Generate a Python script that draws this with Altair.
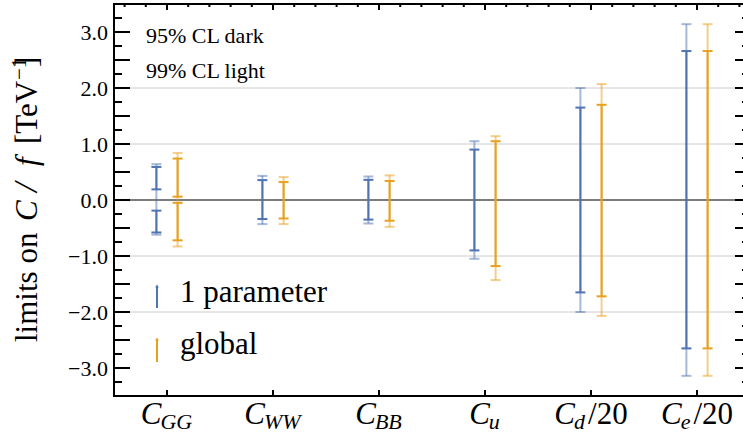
import altair as alt
import pandas as pd
import numpy as np

# ---------------- data ----------------
categories = ["C_GG", "C_WW", "C_BB", "C_u", "C_d/20", "C_e/20"]
label_main = ["C", "C", "C", "C", "C", "C"]
label_sub = ["GG", "WW", "BB", "u", "d", "e"]
label_suffix = ["", "", "", "", "/20", "/20"]
series_names = ["1 parameter", "global"]
level_notes = ["95% CL dark", "99% CL light"]

# 1-parameter fit
one_99_lo = [-0.62, -0.43, -0.42, -1.05, -2.00, -3.14]
one_99_hi = [0.64, 0.43, 0.42, 1.05, 2.00, 3.14]
one_95_lo = [-0.58, -0.34, -0.35, -0.90, -1.65, -2.65]
one_95_hi = [0.59, 0.355, 0.36, 0.90, 1.65, 2.66]
one_95_gap_lo = [-0.19, None, None, None, None, None]
one_95_gap_hi = [0.19, None, None, None, None, None]

# global fit
glob_99_lo = [-0.83, -0.43, -0.48, -1.43, -2.07, -3.14]
glob_99_hi = [0.84, 0.41, 0.44, 1.14, 2.07, 3.14]
glob_95_lo = [-0.72, -0.33, -0.37, -1.18, -1.72, -2.65]
glob_95_hi = [0.74, 0.32, 0.34, 1.05, 1.70, 2.66]
glob_95_gap_lo = [-0.05, None, None, None, None, None]
glob_95_gap_hi = [0.06, None, None, None, None, None]

y_label_values = [-3, -2, -1, 0, 1, 2, 3]
grid_values = [-2, -1, 1, 2]

# ---------------- layout ----------------
FONT = "Liberation Serif, Times New Roman, DejaVu Serif, serif"
BLUE = "#5074B2"
ORANGE = "#E8A020"
W, H = 629, 392
PPU = 106.0                      # pixels per category unit
XMAX = 0.5 + W / PPU
series_offset = {"1 parameter": -0.1, "global": 0.1}
CAPW = 5.0 / PPU

xscale = alt.Scale(domain=[0.5, XMAX], nice=False, zero=False)
yscale = alt.Scale(domain=[-3.5, 3.5], nice=False, zero=False)
cscale = alt.Scale(domain=series_names, range=[BLUE, ORANGE])

segs = []
for name, lo99, hi99, lo95, hi95, glo, ghi in [
    ("1 parameter", one_99_lo, one_99_hi, one_95_lo, one_95_hi, one_95_gap_lo, one_95_gap_hi),
    ("global", glob_99_lo, glob_99_hi, glob_95_lo, glob_95_hi, glob_95_gap_lo, glob_95_gap_hi),
]:
    for ci, cat in enumerate(categories):
        pos = ci + 1 + series_offset[name]
        segs.append(dict(series=name, level="99", pos=pos, lo=lo99[ci], hi=hi99[ci]))
        if glo[ci] is not None:
            segs.append(dict(series=name, level="95", pos=pos, lo=lo95[ci], hi=glo[ci]))
            segs.append(dict(series=name, level="95", pos=pos, lo=ghi[ci], hi=hi95[ci]))
        else:
            segs.append(dict(series=name, level="95", pos=pos, lo=lo95[ci], hi=hi95[ci]))
seg_df = pd.DataFrame(segs)

caps = []
for r in segs:
    for v in (r["lo"], r["hi"]):
        caps.append(dict(series=r["series"], level=r["level"], x1=r["pos"] - CAPW,
                         x2=r["pos"] + CAPW, y=v))
cap_df = pd.DataFrame(caps)

color = alt.Color("series:N", scale=cscale, legend=None)


def bars(level, opacity):
    d = seg_df[seg_df.level == level]
    return alt.Chart(d).mark_rule(strokeWidth=2, opacity=opacity).encode(
        x=alt.X("pos:Q", scale=xscale, axis=None),
        y=alt.Y("lo:Q", scale=yscale, axis=None),
        y2="hi:Q",
        color=color,
    )


def capmarks(level, opacity):
    d = cap_df[cap_df.level == level]
    return alt.Chart(d).mark_rule(strokeWidth=2, opacity=opacity).encode(
        x=alt.X("x1:Q", scale=xscale, axis=None),
        x2="x2:Q",
        y=alt.Y("y:Q", scale=yscale, axis=None),
        color=color,
    )


grid = alt.Chart(pd.DataFrame({"v": grid_values})).mark_rule(
    color="#cccccc", strokeWidth=1
).encode(
    y=alt.Y("v:Q", scale=yscale, axis=None),
    x=alt.value(0), x2=alt.value(W),
)
zero = alt.Chart(pd.DataFrame({"v": [0]})).mark_rule(color="#505050", strokeWidth=1.5).encode(
    y=alt.Y("v:Q", scale=yscale, axis=None), x=alt.value(0), x2=alt.value(W)
)

# y tick labels as text
ylab_df = pd.DataFrame({
    "v": y_label_values,
    "t": [("\u2212" if v < 0 else "") + f"{abs(v):.1f}" for v in y_label_values],
})
ylabels = alt.Chart(ylab_df).mark_text(font=FONT, fontSize=22, align="right", baseline="middle",
                                       color="black", dx=-6, dy=1).encode(
    y=alt.Y("v:Q", scale=yscale, axis=None), x=alt.value(0), text="t:N")

one = pd.DataFrame({"a": [0]})
spine_l = alt.Chart(one).mark_rule(color="black", strokeWidth=2).encode(
    x=alt.value(0), y=alt.value(-1), y2=alt.value(H + 1))
spine_t = alt.Chart(one).mark_rule(color="black", strokeWidth=2).encode(
    y=alt.value(0), x=alt.value(-1), x2=alt.value(W + 10))
spine_b = alt.Chart(one).mark_rule(color="black", strokeWidth=2).encode(
    y=alt.value(H), x=alt.value(-1), x2=alt.value(W + 10))

y_major = list(np.arange(-3.0, 3.01, 0.5))
y_minor = [v for v in np.arange(-3.25, 3.3, 0.5)]
x_major = [1, 2, 3, 4, 5, 6]
x_minor = [round(v, 2) for v in np.arange(0.6, XMAX, 0.2)]


def yticks(vals, x1, x2):
    return alt.Chart(pd.DataFrame({"v": vals})).mark_rule(color="black", strokeWidth=2).encode(
        y=alt.Y("v:Q", scale=yscale, axis=None), x=alt.value(x1), x2=alt.value(x2))


def xticks(vals, y1, y2):
    return alt.Chart(pd.DataFrame({"v": vals})).mark_rule(color="black", strokeWidth=2).encode(
        x=alt.X("v:Q", scale=xscale, axis=None), y=alt.value(y1), y2=alt.value(y2))


ticks = [
    yticks(y_major, 0, 16), yticks(y_minor, 0, 8),
    yticks(y_major, W - 8, W + 8), yticks(y_minor, W - 1, W + 8),
    xticks(x_major, 0, 6), xticks(x_minor, 0, 3),
    xticks(x_major, H, H - 6),
]

# x tick labels built from pieces (main italic C, italic subscript, regular suffix)
ital_w = {"C": 0.667, "G": 0.722, "W": 0.833, "B": 0.611, "u": 0.5, "d": 0.5, "e": 0.444}
reg_w = {"/": 0.278, "2": 0.5, "0": 0.5}
MFS, SFS = 31, 22
lab_rows = []
for i in range(len(categories)):
    wm = sum(ital_w[c] for c in label_main[i]) * MFS
    ws = sum(ital_w[c] for c in label_sub[i]) * SFS
    wf = sum(reg_w[c] for c in label_suffix[i]) * MFS
    total = wm + ws + wf + (2 if label_suffix[i] else 0)
    start = -total / 2
    lab_rows.append(dict(main=label_main[i], sub=label_sub[i], suf=label_suffix[i],
                         xm=i + 1 + start / PPU,
                         xs=i + 1 + (start + wm - 1) / PPU,
                         xf=i + 1 + (start + wm + ws + 2) / PPU))
lab_df = pd.DataFrame(lab_rows)

lab_main = alt.Chart(lab_df).mark_text(font=FONT, fontSize=MFS, fontStyle="italic", align="left",
                                       baseline="alphabetic", color="black").encode(
    x=alt.X("xm:Q", scale=xscale, axis=None), y=alt.value(H + 28), text="main:N")
lab_sub = alt.Chart(lab_df).mark_text(font=FONT, fontSize=SFS, fontStyle="italic", align="left",
                                      baseline="alphabetic", color="black").encode(
    x=alt.X("xs:Q", scale=xscale, axis=None), y=alt.value(H + 33), text="sub:N")
lab_suf = alt.Chart(lab_df[lab_df.suf != ""]).mark_text(font=FONT, fontSize=MFS, align="left",
                                                        baseline="alphabetic", color="black").encode(
    x=alt.X("xf:Q", scale=xscale, axis=None), y=alt.value(H + 28), text="suf:N")


# y axis title pieces (rotated)
def rot_text(txt, xpix, ypix, size, style="normal"):
    return alt.Chart(pd.DataFrame({"t": [txt]})).mark_text(
        font=FONT, fontSize=size, fontStyle=style, angle=270, align="left",
        baseline="alphabetic", color="black").encode(
        text="t:N", x=alt.value(xpix), y=alt.value(ypix))


L0, T0 = 114, 4
title_parts = [
    rot_text("limits on", 37 - L0, 342 - T0, 31),
    rot_text("C", 37 - L0, 221 - T0, 31, "italic"),
    rot_text("/", 37 - L0, 192 - T0, 34, "italic"),
    rot_text("f", 37 - L0, 166 - T0, 31, "italic"),
    rot_text("[TeV", 37 - L0, 144 - T0, 31),
    rot_text("\u22121", 26 - L0, 80 - T0, 21),
    rot_text("]", 37 - L0, 67 - T0, 31),
]


def plain_text(txt, xpix, ypix, size):
    return alt.Chart(pd.DataFrame({"t": [txt]})).mark_text(
        font=FONT, fontSize=size, align="left", baseline="alphabetic", color="black").encode(
        text="t:N", x=alt.value(xpix), y=alt.value(ypix))


notes = [
    plain_text(level_notes[0], 146 - L0, 43 - T0, 22),
    plain_text(level_notes[1], 146 - L0, 78 - T0, 22),
]

legend = []
for name, col, y1, y2, ty in [(series_names[0], BLUE, 286, 308, 302),
                              (series_names[1], ORANGE, 339, 362, 354)]:
    legend.append(alt.Chart(one).mark_rule(color=col, strokeWidth=2).encode(
        x=alt.value(157 - L0), y=alt.value(y1 - T0), y2=alt.value(y2 - T0)))
    legend.append(alt.Chart(one).mark_point(color=col, shape="triangle-up", filled=True,
                                            size=14, opacity=1).encode(
        x=alt.value(157 - L0), y=alt.value(y1 - T0)))
    legend.append(plain_text(name, 180 - L0, ty - T0, 31))

chart = alt.layer(
    grid, zero,
    bars("99", 0.5), capmarks("99", 0.5),
    bars("95", 1.0), capmarks("95", 1.0),
    *ticks, spine_l, spine_t, spine_b, ylabels,
    lab_main, lab_sub, lab_suf,
    *title_parts, *notes, *legend,
).properties(
    width=W, height=H,
    padding={"left": L0, "top": T0, "right": 0, "bottom": 435 - T0 - H},
    autosize=alt.AutoSizeParams(type="none"),
    background="white",
).configure_view(stroke=None)

chart.save("out.html", embed_options={"renderer": "svg", "actions": False})
